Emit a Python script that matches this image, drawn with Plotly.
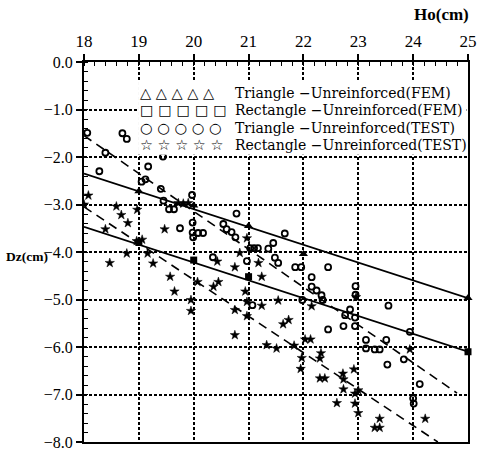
import plotly.graph_objects as go

# ---- data ----
ho_ticks = [18, 19, 20, 21, 22, 23, 24, 25]
dz_ticks = [0, -1, -2, -3, -4, -5, -6, -7, -8]

# Triangle - Unreinforced (TEST): open circles
tri_test_x = [18.06, 18.70, 18.78, 18.39, 18.28, 19.17, 19.44, 19.05, 19.12, 19.40,
              19.45, 19.55, 19.64, 19.75, 19.97, 19.98, 19.98, 19.99, 20.08, 20.17,
              20.78, 20.54, 20.60, 20.69, 20.76, 21.03, 21.10, 21.17, 21.36, 21.45,
              21.66, 21.48, 21.54, 21.85, 21.96, 22.45, 22.15, 22.15, 22.24, 22.33,
              22.35, 21.98, 20.35, 20.97, 21.07, 22.95, 22.95, 22.85, 22.76, 22.94,
              22.73, 22.94, 22.45, 23.55, 23.14, 23.14, 23.30, 23.39, 23.51, 23.53,
              23.83, 23.94, 24.12, 24.00, 24.01]
tri_test_y = [-1.49, -1.50, -1.62, -1.91, -2.30, -2.20, -1.99, -2.52, -2.47, -2.67,
              -2.92, -3.10, -3.10, -3.50, -2.80, -3.38, -3.59, -3.69, -3.60, -3.60,
              -3.19, -3.41, -3.52, -3.58, -3.69, -3.92, -3.92, -3.92, -3.93, -3.81,
              -3.61, -4.12, -4.23, -4.32, -4.32, -4.32, -4.53, -4.73, -4.81, -4.91,
              -5.01, -5.01, -4.11, -4.19, -5.12, -4.72, -4.90, -5.21, -5.33, -5.38,
              -5.56, -5.56, -5.63, -5.13, -5.85, -6.03, -6.05, -6.05, -5.85, -6.37,
              -6.26, -5.68, -6.78, -7.08, -7.19]

# Rectangle - Unreinforced (TEST): stars
rect_test_x = [18.00, 18.08, 18.59, 18.68, 18.80, 18.39, 18.97, 18.96, 19.06, 19.47,
               19.72, 19.81, 19.90, 18.47, 18.78, 19.16, 19.26, 19.57, 19.65, 20.07,
               20.36, 20.45, 20.43, 19.95, 19.95, 20.75, 20.84, 20.97, 21.18, 21.24,
               20.94, 20.97, 20.97, 21.24, 21.54, 20.75, 20.75, 21.63, 21.73, 21.33,
               21.51, 21.83, 22.03, 22.13, 22.15, 21.97, 21.95, 22.32, 22.30, 22.30,
               22.39, 22.72, 22.73, 22.73, 22.92, 22.61, 22.94, 23.00, 22.94, 23.00,
               23.39, 23.30, 23.39, 24.22, 22.96, 23.94]
rect_test_y = [-3.00, -2.81, -3.04, -3.22, -3.39, -3.52, -3.11, -3.77, -3.74, -3.52,
               -2.97, -2.98, -2.97, -4.23, -4.03, -4.03, -4.24, -4.52, -4.83, -4.63,
               -4.73, -4.63, -4.20, -5.01, -5.24, -4.32, -4.02, -3.71, -4.23, -4.52,
               -4.83, -5.05, -5.35, -5.13, -5.02, -5.22, -5.75, -5.52, -5.43, -5.96,
               -6.03, -5.97, -5.84, -5.84, -5.14, -6.23, -6.46, -6.13, -6.24, -6.66,
               -6.66, -6.56, -6.68, -6.89, -6.47, -7.18, -6.98, -6.91, -7.19, -7.39,
               -7.51, -7.70, -7.70, -7.51, -4.95, -6.05]

# FEM results
tri_fem_x = [19, 20, 21, 22, 25]
tri_fem_y = [-2.72, -3.02, -3.45, -4.04, -4.97]
rect_fem_x = [19, 20, 21, 25]
rect_fem_y = [-3.80, -4.17, -4.52, -6.10]

# straight lines (FEM solid, TEST fits dashed)
tri_fem_line_x = [18, 25]
tri_fem_line_y = [-2.35, -4.97]
rect_fem_line_x = [18, 25]
rect_fem_line_y = [-3.47, -6.10]
tri_fit_x = [18.0, 24.8]
tri_fit_y = [-1.55, -6.97]
rect_fit_x = [18.0, 24.45]
rect_fit_y = [-3.05, -8.0]

legend_symbols = ["△ △ △ △ △", "□ □ □ □ □", "○ ○ ○ ○ ○", "☆ ☆ ☆ ☆ ☆"]
legend_labels = ["Triangle −Unreinforced(FEM)", "Rectangle −Unreinforced(FEM)",
                 "Triangle −Unreinforced(TEST)", "Rectangle −Unreinforced(TEST)"]

# ---- figure ----
W, H = 477, 452
L, R, T, B = 84, 9, 62, 10
pw, ph = W - L - R, H - T - B

fig = go.Figure()
for lx, ly in [(tri_fem_line_x, tri_fem_line_y), (rect_fem_line_x, rect_fem_line_y)]:
    fig.add_trace(go.Scatter(x=lx, y=ly, mode="lines",
                             line=dict(color="black", width=1.8), hoverinfo="skip"))
for lx, ly in [(tri_fit_x, tri_fit_y), (rect_fit_x, rect_fit_y)]:
    fig.add_trace(go.Scatter(x=lx, y=ly, mode="lines",
                             line=dict(color="black", width=1.6, dash="9px,6px"),
                             hoverinfo="skip"))

fig.add_trace(go.Scatter(x=tri_test_x, y=tri_test_y, mode="markers",
                         marker=dict(symbol="circle-open", size=6, color="black",
                                     line=dict(width=1.8, color="black"))))
fig.add_trace(go.Scatter(x=rect_test_x, y=rect_test_y, mode="markers",
                         marker=dict(symbol="star", size=7, color="black",
                                     line=dict(width=0.5, color="black"))))
fig.add_trace(go.Scatter(x=tri_fem_x, y=tri_fem_y, mode="markers", cliponaxis=False,
                         marker=dict(symbol="triangle-up", size=8, color="black")))
fig.add_trace(go.Scatter(x=rect_fem_x, y=rect_fem_y, mode="markers", cliponaxis=False,
                         marker=dict(symbol="square", size=7, color="black")))

axis_common = dict(showline=True, linewidth=2, linecolor="black", mirror=True,
                   showgrid=True, gridcolor="black", gridwidth=1.5, griddash="3px,2px",
                   zeroline=False, ticks="outside", ticklen=6, tickwidth=1.5,
                   tickcolor="black", automargin=False)

fig.update_layout(
    width=W, height=H,
    margin=dict(l=L, r=R, t=T, b=B, autoexpand=False),
    paper_bgcolor="white", plot_bgcolor="white",
    showlegend=False,
    xaxis=dict(side="top", range=[18, 25], tickmode="array", tickvals=ho_ticks,
               ticktext=[str(v) for v in ho_ticks],
               tickfont=dict(family="Liberation Serif", size=17, color="black"),
               minor=dict(ticks="inside", dtick=0.2, tick0=18, ticklen=4,
                          tickwidth=1, tickcolor="black", showgrid=False),
               **axis_common),
    yaxis=dict(range=[-8, 0], tickmode="array", tickvals=dz_ticks,
               ticktext=[f"{v:.1f}".replace("-", "−") for v in dz_ticks],
               tickfont=dict(family="Liberation Serif", size=16, color="black"),
               minor=dict(ticks="inside", dtick=0.2, tick0=0, ticklen=4,
                          tickwidth=1, tickcolor="black", showgrid=False),
               **axis_common),
)

# legend box (white, covering grid and data)
fig.add_shape(type="rect", xref="x", yref="y", x0=18.985, x1=24.975, y0=-1.95, y1=-0.42,
              fillcolor="white", line=dict(width=0), layer="above")

legend_center_y = -1.21
fig.add_annotation(
    x=18.99, y=legend_center_y, xref="x", yref="y", showarrow=False,
    xanchor="left", yanchor="middle", align="left",
    text="<br>".join(f"<span style='font-size:14.5px'>{s}</span>" for s in legend_symbols),
    font=dict(family="DejaVu Sans", size=13.4, color="black"))
fig.add_annotation(
    x=20.71, y=legend_center_y, xref="x", yref="y", showarrow=False,
    xanchor="left", yanchor="middle", align="left",
    text="<br>".join(f"<span style='font-size:14px'>{s}</span>" for s in legend_labels),
    font=dict(family="DejaVu Serif", size=13.4, color="black"))


def px_to_paper(px, py):
    return (px - L) / pw, 1 - (py - T) / ph


hx, hy = px_to_paper(471, 15)
fig.add_annotation(x=hx, y=hy, xref="paper", yref="paper", text="<b>Ho(cm)</b>",
                   showarrow=False, xanchor="right", yanchor="middle",
                   font=dict(family="Liberation Serif", size=17, color="black"))
dx, dy = px_to_paper(4, 256)
fig.add_annotation(x=dx, y=dy, xref="paper", yref="paper", text="<b>Dz(cm)</b>",
                   showarrow=False, xanchor="left", yanchor="middle",
                   font=dict(family="Liberation Serif", size=13.5, color="black"))

fig.write_html(
    "out.html",
    config={"displayModeBar": False},
    post_script="document.body.style.margin='0px';document.body.style.overflow='hidden';",
)
